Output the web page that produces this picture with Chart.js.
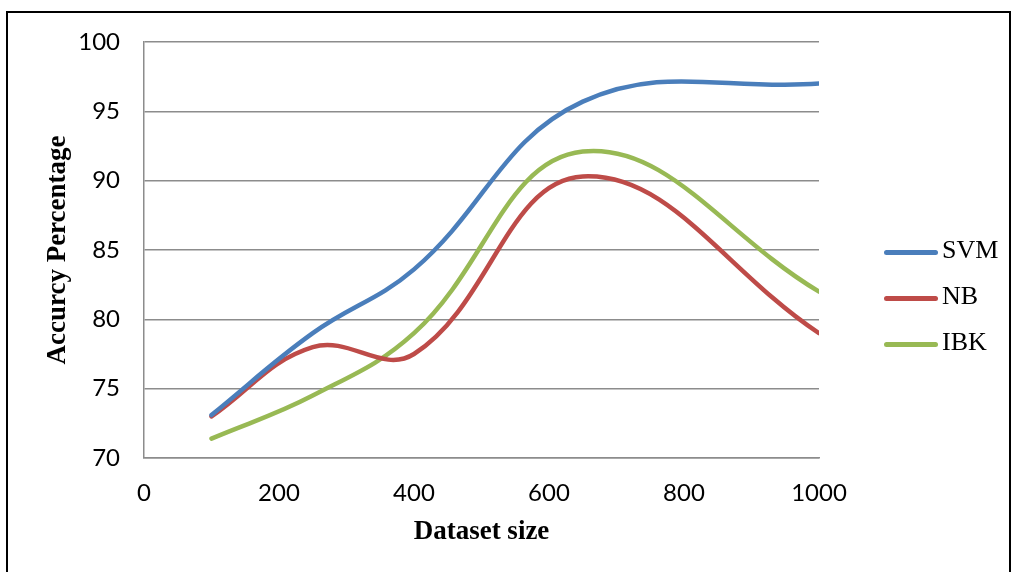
<!DOCTYPE html>
<html>
<head>
<meta charset="utf-8">
<script src="https://cdn.jsdelivr.net/npm/chart.js@4.4.1/dist/chart.umd.min.js"></script>
<style>
  body { margin: 0; background: #fff; }
  #wrap { position: relative; width: 1015px; height: 572px; overflow: hidden; }
  #frame { position: absolute; left: 6px; top: 11px; width: 1005px; height: 600px; border: 2px solid #000; box-sizing: border-box; }
  canvas { position: absolute; left: 0; top: 0; }
  .legend { position: absolute; left: 884px; font-family: "Liberation Serif", serif; font-size: 26px; line-height: 30px; color: #000; }
  .legend span.ln { display: inline-block; width: 54px; height: 5px; border-radius: 3px; vertical-align: middle; margin-right: 4px; }
</style>
</head>
<body>
<div id="wrap">
  <div id="frame"></div>
  <canvas id="chart" width="1015" height="572"></canvas>
  <div id="legend"></div>
</div>
<script>
// данные с графика
const sizes = [100, 250, 400, 650, 1000];
const svm = [73.1, 79.0, 83.6, 95.7, 97.0];
const nb = [73.0, 78.0, 77.5, 90.3, 79.0];
const ibk = [71.4, 74.5, 79.0, 92.1, 82.0];
const yTicks = [70, 75, 80, 85, 90, 95, 100];

const series = [
  { label: 'SVM', values: svm, color: '#4A7EBB' },
  { label: 'NB', values: nb, color: '#BE4B48' },
  { label: 'IBK', values: ibk, color: '#98B954' }
];

const ctx = document.getElementById('chart');
new Chart(ctx, {
  type: 'scatter',
  data: {
    datasets: series.map(s => ({
      label: s.label,
      data: sizes.map((x, i) => ({ x: x, y: s.values[i] })),
      showLine: true,
      borderColor: s.color,
      backgroundColor: s.color,
      borderWidth: 4.5,
      pointRadius: 0,
      tension: 0.4,
      borderCapStyle: 'round'
    }))
  },
  options: {
    responsive: false,
    animation: false,
    layout: { padding: { top: 42, right: 196, left: 0, bottom: 0 } },
    plugins: { legend: { display: false }, tooltip: { enabled: false } },
    scales: {
      x: {
        type: 'linear',
        min: 0,
        max: 1000,
        ticks: { stepSize: 200, padding: 21, color: '#000', font: { family: 'Lato', size: 24 }, callback: v => String(v) },
        grid: { display: false, drawTicks: false },
        border: { display: true, color: '#8c8c8c', width: 1.5 },
        title: { display: true, text: 'Dataset size', color: '#000', padding: { top: 0, bottom: 24 }, font: { family: 'Liberation Serif', size: 27, weight: 'bold' } },
        afterFit: scale => { scale.height = 114; }
      },
      y: {
        min: 70,
        max: 100,
        afterBuildTicks: scale => { scale.ticks = yTicks.map(v => ({ value: v })); },
        ticks: { padding: 24, color: '#000', font: { family: 'Lato', size: 24 } },
        grid: { color: '#8c8c8c', lineWidth: 1.5, drawTicks: false },
        border: { display: true, color: '#8c8c8c', width: 1.5 },
        title: { display: true, text: 'Accurcy Percentage', color: '#000', padding: { top: 42, bottom: 0 }, font: { family: 'Liberation Serif', size: 27, weight: 'bold' } },
        afterFit: scale => { scale.width = 144; }
      }
    }
  }
});

// легенда справа
const legend = document.getElementById('legend');
series.forEach((s, i) => {
  const d = document.createElement('div');
  d.className = 'legend';
  d.style.top = (235 + i * 46) + 'px';
  d.innerHTML = '<span class="ln" style="background:' + s.color + '"></span>' + s.label;
  legend.appendChild(d);
});
</script>
</body>
</html>
